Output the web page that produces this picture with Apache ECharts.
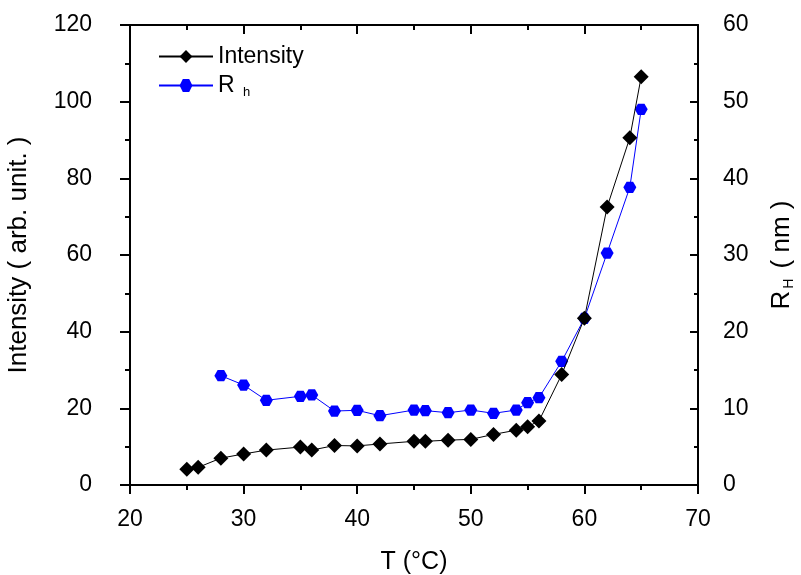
<!DOCTYPE html>
<html>
<head>
<meta charset="utf-8">
<script src="https://cdn.jsdelivr.net/npm/echarts@6/dist/echarts.min.js"></script>
<style>html,body{margin:0;padding:0;background:#fff}#c{width:801px;height:575px}</style>
</head>
<body>
<div id="c"></div>
<script>
const tempIntensity = [25, 26, 28, 30, 32, 35, 36, 38, 40, 42, 45, 46, 48, 50, 52, 54, 55, 56, 58, 60, 62, 64, 65];
const intensity = [4.1, 4.6, 7.0, 8.1, 9.1, 9.9, 9.1, 10.3, 10.2, 10.7, 11.4, 11.4, 11.7, 11.9, 13.2, 14.3, 15.2, 16.7, 28.8, 43.5, 72.5, 90.6, 106.5];
const tempRh = [28, 30, 32, 35, 36, 38, 40, 42, 45, 46, 48, 50, 52, 54, 55, 56, 58, 60, 62, 64, 65];
const rh = [14.26, 13.04, 11.05, 11.57, 11.74, 9.65, 9.74, 9.04, 9.78, 9.7, 9.43, 9.78, 9.35, 9.78, 10.74, 11.39, 16.13, 21.74, 30.26, 38.83, 49.0];
const xTicks = [20, 30, 40, 50, 60, 70];
const leftTicks = [0, 20, 40, 60, 80, 100, 120];
const rightTicks = [0, 10, 20, 30, 40, 50, 60];

const FONT = '"Liberation Sans", Arial, sans-serif';
const hexagon = 'path://M-1,0 L-0.5,-0.866 L0.5,-0.866 L1,0 L0.5,0.866 L-0.5,0.866 Z';
const axisLine = {show: true, onZero: false, lineStyle: {color: '#000', width: 2}};

const chart = echarts.init(document.getElementById('c'));
chart.setOption({
  animation: false,
  backgroundColor: '#fff',
  textStyle: {fontFamily: FONT},
  grid: {left: 130, right: 103, top: 25, bottom: 90, containLabel: false, outerBoundsMode: 'none'},
  legend: {
    left: 153, top: 40, orient: 'vertical', itemWidth: 54, itemHeight: 16, itemGap: 6,
    textStyle: {fontFamily: FONT, fontSize: 23, color: '#000',
      rich: {sub: {fontSize: 13, fontFamily: FONT, color: '#000', padding: [14, 0, 0, 2]}}},
    formatter: function (n) { return n === 'Rh' ? 'R {sub|h}' : n; },
    data: ['Intensity', 'Rh']
  },
  xAxis: [{
    type: 'value', min: xTicks[0], max: xTicks[xTicks.length - 1], interval: 10,
    name: 'T (°C)', nameLocation: 'middle', nameGap: 65,
    nameTextStyle: {fontSize: 25, color: '#000', fontFamily: FONT},
    axisLine: axisLine,
    axisTick: {show: true, inside: false, length: 9, lineStyle: {color: '#000', width: 2}},
    minorTick: {show: true, splitNumber: 2, length: 5, lineStyle: {color: '#000', width: 2}},
    axisLabel: {fontSize: 23, color: '#000', margin: 23, fontFamily: FONT},
    splitLine: {show: false}
  }, {
    type: 'value', position: 'top', min: xTicks[0], max: xTicks[xTicks.length - 1], interval: 10,
    axisLine: axisLine,
    axisTick: {show: true, inside: true, length: 9, lineStyle: {color: '#000', width: 2}},
    minorTick: {show: true, splitNumber: 2, length: 5, lineStyle: {color: '#000', width: 2}},
    axisLabel: {show: false}, splitLine: {show: false}
  }],
  yAxis: [{
    type: 'value', min: leftTicks[0], max: leftTicks[leftTicks.length - 1], interval: 20,
    name: 'Intensity ( arb. unit. )', nameLocation: 'middle', nameGap: 98, nameRotate: 90,
    nameTextStyle: {fontSize: 26, color: '#000', fontFamily: FONT},
    axisLine: axisLine,
    axisTick: {show: true, inside: false, length: 10, lineStyle: {color: '#000', width: 2}},
    minorTick: {show: true, splitNumber: 2, length: 5, lineStyle: {color: '#000', width: 2}},
    axisLabel: {fontSize: 23, color: '#000', margin: 38, fontFamily: FONT},
    splitLine: {show: false}
  }, {
    type: 'value', position: 'right', min: rightTicks[0], max: rightTicks[rightTicks.length - 1], interval: 10,
    name: 'R{sub|H} ( nm )', nameLocation: 'middle', nameGap: 70, nameRotate: 90,
    nameTextStyle: {fontSize: 26, color: '#000', fontFamily: FONT,
      rich: {sub: {fontSize: 14, fontFamily: FONT, color: '#000', padding: [14, 3, 0, 2]}}},
    axisLine: axisLine,
    axisTick: {show: true, inside: true, length: 8, lineStyle: {color: '#000', width: 2}},
    minorTick: {show: true, splitNumber: 2, length: 4, lineStyle: {color: '#000', width: 2}},
    axisLabel: {fontSize: 23, color: '#000', margin: 25, fontFamily: FONT},
    splitLine: {show: false}
  }],
  series: [{
    name: 'Intensity', type: 'line', xAxisIndex: 0, yAxisIndex: 0,
    data: tempIntensity.map((t, i) => [t, intensity[i]]),
    symbol: 'diamond', symbolSize: [15, 15],
    itemStyle: {color: '#000'}, lineStyle: {color: '#000', width: 1}, z: 3
  }, {
    name: 'Rh', type: 'line', xAxisIndex: 0, yAxisIndex: 1,
    data: tempRh.map((t, i) => [t, rh[i]]),
    symbol: hexagon, symbolSize: [13, 13], symbolKeepAspect: true,
    itemStyle: {color: '#0000ff'}, lineStyle: {color: '#0000ff', width: 1}, z: 2
  }]
});
</script>
</body>
</html>
